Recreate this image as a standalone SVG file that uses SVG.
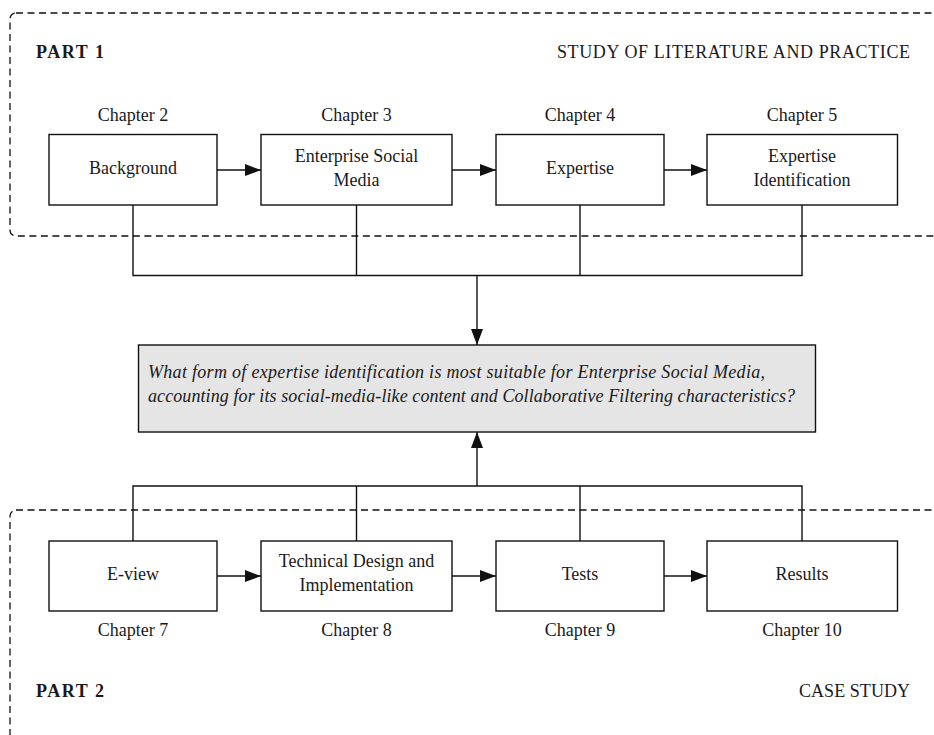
<svg xmlns="http://www.w3.org/2000/svg" width="934" height="735" viewBox="0 0 934 735">
  <style>
    text { font-family: "Liberation Serif", "DejaVu Serif", serif; font-size: 18px; fill: #1a1a1a; }
    .c { text-anchor: middle; }
    .r { text-anchor: end; }
    .b { font-weight: bold; }
    .q { font-style: italic; }
    .box { fill: #ffffff; stroke: #111111; stroke-width: 1.4; }
    .qbox { fill: #e5e5e5; stroke: #111111; stroke-width: 1.4; }
    .part { fill: none; stroke: #111111; stroke-width: 1.3; stroke-dasharray: 7 4.5; }
    .wire { fill: none; stroke: #111111; stroke-width: 1.4; }
  </style>
  <defs>
    <marker id="arrow" viewBox="0 0 16 12" refX="16" refY="6" markerWidth="16" markerHeight="12" markerUnits="userSpaceOnUse" orient="auto">
      <path d="M0,0 L16,6 L0,12 Z" fill="#111111"/>
    </marker>
  </defs>

  <rect x="0" y="0" width="934" height="735" fill="#ffffff"/>

  <!-- Part frames -->
  <g id="part1">
    <rect class="part" x="10" y="13" width="1000" height="223" rx="6"/>
    <text class="b" x="36" y="58" textLength="68" lengthAdjust="spacing">PART 1</text>
    <text x="557" y="58" textLength="353" lengthAdjust="spacing">STUDY OF LITERATURE AND PRACTICE</text>
  </g>
  <g id="part2">
    <rect class="part" x="10" y="510" width="1000" height="230" rx="6"/>
    <text class="b" x="36" y="697" textLength="68" lengthAdjust="spacing">PART 2</text>
    <text x="799" y="697" textLength="111" lengthAdjust="spacing">CASE STUDY</text>
  </g>

  <!-- Connectors -->
  <g id="connectors">
    <path class="wire" d="M217,170 H261" marker-end="url(#arrow)"/>
    <path class="wire" d="M452,170 H496" marker-end="url(#arrow)"/>
    <path class="wire" d="M664,170 H707" marker-end="url(#arrow)"/>
    <path class="wire" d="M217,576 H261" marker-end="url(#arrow)"/>
    <path class="wire" d="M452,576 H496" marker-end="url(#arrow)"/>
    <path class="wire" d="M664,576 H707" marker-end="url(#arrow)"/>
    <path class="wire" d="M133,205 V275.5 H802 V205 M356.5,205 V275.5 M580,205 V275.5"/>
    <path class="wire" d="M477,275.5 V345" marker-end="url(#arrow)"/>
    <path class="wire" d="M133,541 V486 H802 V541 M356.5,541 V486 M580,541 V486"/>
    <path class="wire" d="M477,486 V432" marker-end="url(#arrow)"/>
  </g>

  <!-- Part 1 chapters -->
  <g id="ch2">
    <text class="c" x="133" y="121">Chapter 2</text>
    <rect class="box" x="49" y="134.5" width="168" height="70.5"/>
    <text class="c" x="133" y="174">Background</text>
  </g>
  <g id="ch3">
    <text class="c" x="356.5" y="121">Chapter 3</text>
    <rect class="box" x="261" y="134.5" width="191" height="70.5"/>
    <text class="c" x="356.5" y="162">Enterprise Social</text>
    <text class="c" x="356.5" y="186">Media</text>
  </g>
  <g id="ch4">
    <text class="c" x="580" y="121">Chapter 4</text>
    <rect class="box" x="496" y="134.5" width="168" height="70.5"/>
    <text class="c" x="580" y="174">Expertise</text>
  </g>
  <g id="ch5">
    <text class="c" x="802" y="121">Chapter 5</text>
    <rect class="box" x="707" y="134.5" width="190.5" height="70.5"/>
    <text class="c" x="802" y="162">Expertise</text>
    <text class="c" x="802" y="186">Identification</text>
  </g>

  <!-- Research question -->
  <g id="question">
    <rect class="qbox" x="138.5" y="345" width="677" height="87"/>
    <text class="q" x="148" y="378" textLength="617" lengthAdjust="spacing">What form of expertise identification is most suitable for Enterprise Social Media,</text>
    <text class="q" x="148" y="402" textLength="647" lengthAdjust="spacing">accounting for its social-media-like content and Collaborative Filtering characteristics?</text>
  </g>

  <!-- Part 2 chapters -->
  <g id="ch7">
    <rect class="box" x="49" y="541" width="168" height="70"/>
    <text class="c" x="133" y="580">E-view</text>
    <text class="c" x="133" y="636">Chapter 7</text>
  </g>
  <g id="ch8">
    <rect class="box" x="261" y="541" width="191" height="70"/>
    <text class="c" x="356.5" y="567">Technical Design and</text>
    <text class="c" x="356.5" y="591">Implementation</text>
    <text class="c" x="356.5" y="636">Chapter 8</text>
  </g>
  <g id="ch9">
    <rect class="box" x="496" y="541" width="168" height="70"/>
    <text class="c" x="580" y="580">Tests</text>
    <text class="c" x="580" y="636">Chapter 9</text>
  </g>
  <g id="ch10">
    <rect class="box" x="707" y="541" width="190.5" height="70"/>
    <text class="c" x="802" y="580">Results</text>
    <text class="c" x="802" y="636">Chapter 10</text>
  </g>
</svg>
